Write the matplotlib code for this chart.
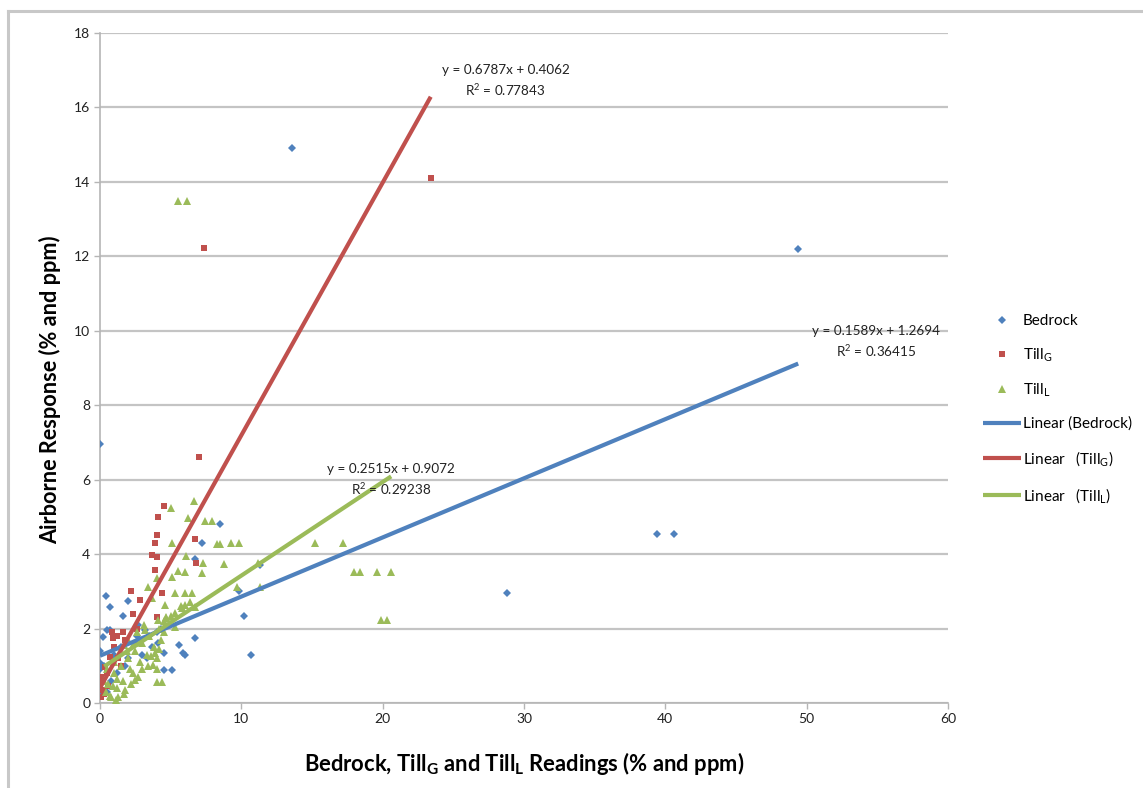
import numpy as np
import matplotlib
matplotlib.use("Agg")
import matplotlib.pyplot as plt
from matplotlib.lines import Line2D

plt.rcParams["font.family"] = ["Lato", "DejaVu Sans"]
plt.rcParams["mathtext.default"] = "regular"

# readings: (x = ground reading, y = airborne response)
bedrock_x = [0.0, 13.6, 49.4, 39.4, 40.6, 28.8, 10.2, 10.7, 8.5, 7.2, 6.7, 11.3,
             9.8, 6.7, 6.0, 5.1, 4.5, 0.4, 0.7, 2.0, 1.6, 0.7, 0.2, 0.0, 3.2, 4.1,
             3.7, 4.5, 0.1, 0.0, 0.5, 3.3, 0.0, 0.0, 0.3, 1.0, 1.5, 2.5, 3.0, 1.2,
             0.8, 2.0, 4.0, 3.5, 5.6, 2.6, 1.8, 0.5, 0.1, 4.3, 2.7, 5.9]
bedrock_y = [6.95, 14.9, 12.2, 4.55, 4.55, 2.95, 2.35, 1.3, 4.8, 4.3, 3.87, 3.7,
             3.0, 1.75, 1.3, 0.88, 0.88, 2.87, 2.58, 2.74, 2.33, 1.96, 1.77, 1.07,
             1.96, 1.6, 1.5, 1.34, 0.54, 0.35, 1.96, 1.2, 1.4, 0.9, 1.0, 1.3, 1.5,
             1.6, 1.3, 0.8, 0.6, 1.2, 1.9, 1.8, 1.55, 1.8, 1.0, 0.3, 0.2, 2.0, 2.1,
             1.34]

tillg_x = [23.4, 7.35, 7.0, 4.5, 4.1, 4.0, 3.9, 3.7, 4.0, 3.9, 6.7, 6.8, 2.2, 4.4,
           2.3, 1.6, 0.9, 0.7, 0.2, 0.1, 0.35, 2.8, 4.0, 0.85, 0.0, 0.2, 0.1, 1.0,
           1.3, 0.5, 1.8, 1.5, 0.6, 2.6, 1.2, 0.3]
tillg_y = [14.1, 12.22, 6.6, 5.3, 5.0, 4.5, 4.3, 3.97, 3.92, 3.57, 4.4, 3.75, 3.0,
           2.95, 2.4, 1.9, 1.75, 1.24, 0.62, 0.16, 0.97, 2.78, 2.3, 1.9, 0.54,
           0.35, 0.7, 1.5, 1.2, 0.8, 1.7, 1.0, 0.45, 2.0, 1.8, 0.25]

tilll_x = [5.5, 6.15, 6.65, 5.0, 6.2, 7.4, 7.95, 5.1, 8.3, 8.5, 9.3, 9.8, 6.1, 7.3,
           8.8, 5.5, 6.0, 7.2, 4.0, 5.1, 9.7, 11.3, 11.2, 5.3, 6.0, 6.5, 3.4, 3.7,
           4.6, 5.7, 6.0, 6.7, 4.7, 4.1, 5.3, 3.2, 15.2, 17.2, 18.0, 18.4, 19.6,
           20.6, 19.9, 20.3, 3.9, 3.75, 4.0, 4.4, 2.3, 2.5, 1.8, 1.3, 1.1, 5.3,
           4.7, 4.2, 3.5, 3.0, 2.5, 2.0, 1.5, 1.0, 0.6, 0.4, 0.8, 1.2, 1.6, 2.1,
           2.8, 3.3, 3.8, 4.3, 2.0, 1.4, 1.0, 0.5, 2.6, 3.1, 4.0, 4.0, 3.6, 1.7,
           2.2, 0.9, 0.3, 1.9, 3.0, 2.7, 3.4, 4.5, 5.0, 5.8, 4.2, 1.2, 0.7, 2.4,
           1.7, 4.5, 6.4]
tilll_y = [13.5, 13.5, 5.43, 5.24, 4.97, 4.89, 4.89, 4.3, 4.27, 4.27, 4.3, 4.3,
           3.95, 3.75, 3.73, 3.55, 3.52, 3.5, 3.36, 3.39, 3.12, 3.12, 3.76, 2.95,
           2.95, 2.95, 3.12, 2.82, 2.63, 2.61, 2.63, 2.58, 2.31, 2.23, 2.04, 1.96,
           4.3, 4.3, 3.52, 3.52, 3.52, 3.52, 2.22, 2.22, 1.34, 1.02, 0.56, 0.56,
           0.8, 0.62, 0.35, 0.16, 0.08, 2.42, 2.28, 2.0, 1.8, 1.6, 1.4, 1.2, 1.0,
           0.8, 0.5, 0.3, 0.15, 0.4, 0.6, 0.9, 1.1, 1.3, 1.5, 1.7, 1.7, 1.4, 1.1,
           0.9, 1.9, 2.1, 1.2, 0.9, 1.25, 0.25, 0.5, 0.45, 0.6, 1.4, 0.9, 0.7, 1.0,
           2.2, 2.35, 2.55, 1.45, 0.65, 0.2, 1.6, 1.55, 1.9, 2.7]

# Excel linear trendlines: slope, intercept, r squared
bedrock_fit = (0.1589, 1.2694, 0.36415)
tillg_fit = (0.6787, 0.4062, 0.77843)
tilll_fit = (0.2515, 0.9072, 0.29238)

BLUE = "#4F81BD"
RED = "#C0504D"
GREEN = "#9BBB59"
GRID = "#c4c4c4"

fig = plt.figure(figsize=(11.43, 7.88), dpi=100)
ax = fig.add_axes([0.0875, 0.1079, 0.7419, 0.8502])

ax.yaxis.grid(True, color=GRID, linewidth=1.6)
ax.set_axisbelow(True)

series = [
    ("Bedrock", bedrock_x, bedrock_y, bedrock_fit, BLUE, "D", 4.0),
    ("Till$_{G}$", tillg_x, tillg_y, tillg_fit, RED, "s", 5.0),
    ("Till$_{L}$", tilll_x, tilll_y, tilll_fit, GREEN, "^", 5.5),
]
fit_labels = ["Linear (Bedrock)", "Linear   (Till$_{G}$)", "Linear   (Till$_{L}$)"]

point_handles = []
line_handles = []
for (name, xs, ys, fit, color, marker, ms), fit_label in zip(series, fit_labels):
    h, = ax.plot(xs, ys, linestyle="none", marker=marker, markersize=ms,
                 color=color, markeredgewidth=0, label=name, zorder=3)
    point_handles.append(h)
    slope, icept, _ = fit
    xl = np.array([min(xs), max(xs)])
    lh, = ax.plot(xl, slope * xl + icept, color=color, linewidth=3,
                  solid_capstyle="butt", label=fit_label, zorder=4)
    line_handles.append(lh)

# equation labels
eq_pos = [(54.9, 9.7), (28.7, 16.7), (20.6, 6.0)]
for (name, xs, ys, fit, color, marker, ms), (tx, ty) in zip(series, eq_pos):
    slope, icept, r2 = fit
    ax.text(tx, ty, f"y = {slope:.4f}x + {icept:.4f}\nR$^{{2}}$ = {r2:.5f}",
            ha="center", va="center", fontsize=9.7, color="#222222",
            linespacing=1.45, clip_on=False, zorder=5)

ax.set_xlim(0, 60)
ax.set_ylim(0, 18)
ax.set_xticks(np.arange(0, 61, 10))
ax.set_yticks(np.arange(0, 19, 2))
for side in ("top", "right"):
    ax.spines[side].set_visible(False)
for side in ("left", "bottom"):
    ax.spines[side].set_color("#b5b5b5")
    ax.spines[side].set_linewidth(1.2)
ax.tick_params(direction="out", length=4, width=1, color="#b5b5b5",
               labelsize=10, labelcolor="#222222", pad=3)

ax.set_xlabel("Bedrock, Till$_{G}$ and Till$_{L}$ Readings (% and ppm)",
              fontsize=15.8, fontweight="bold")
ax.set_ylabel("Airborne Response (% and ppm)", fontsize=15.6, fontweight="bold")
ax.xaxis.set_label_coords(0.5, -0.070)
ax.yaxis.set_label_coords(-0.046, 0.467)

fig.legend(handles=point_handles + line_handles, loc="upper left",
           bbox_to_anchor=(0.860, 0.601), frameon=False, fontsize=11,
           handlelength=2.5, handletextpad=0.1, labelspacing=1.17,
           borderpad=0, borderaxespad=0)

# light frame around the chart area (top and left edges only are visible)
fig.add_artist(Line2D([0.007, 1.0], [0.986, 0.986], color="#c8c8c8",
                      linewidth=2.2, transform=fig.transFigure))
fig.add_artist(Line2D([0.007, 0.007], [0.0, 0.986], color="#c8c8c8",
                      linewidth=2.2, transform=fig.transFigure))

fig.savefig("out.png", dpi=100)
